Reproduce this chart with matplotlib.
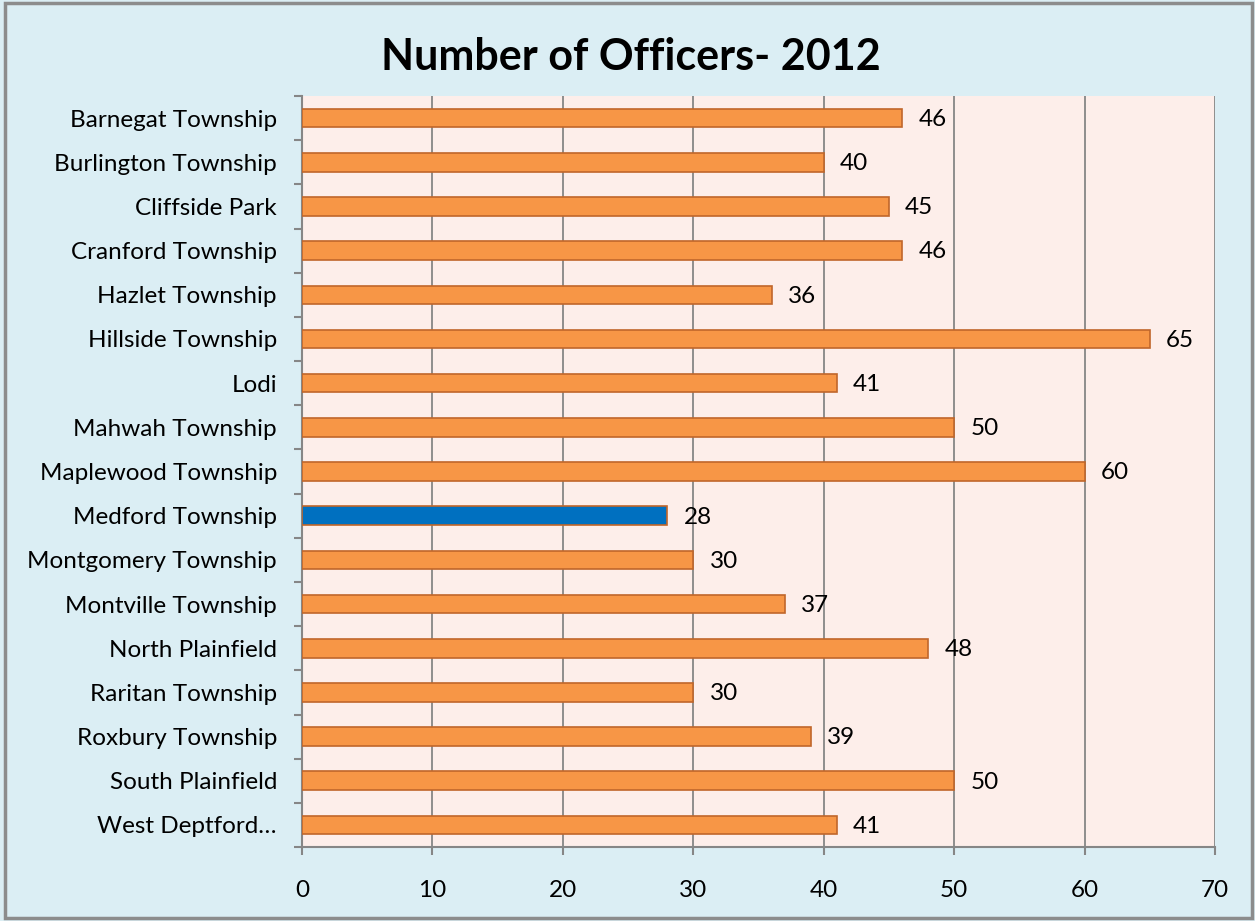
import matplotlib.pyplot as plt
import numpy as np

towns = ["Barnegat Township", "Burlington Township", "Cliffside Park", "Cranford Township",
         "Hazlet Township", "Hillside Township", "Lodi", "Mahwah Township",
         "Maplewood Township", "Medford Township", "Montgomery Township", "Montville Township",
         "North Plainfield", "Raritan Township", "Roxbury Township", "South Plainfield",
         "West Deptford…"]
officers = [46, 40, 45, 46, 36, 65, 41, 50, 60, 28, 30, 37, 48, 30, 39, 50, 41]
highlight = "Medford Township"

plt.rcParams['font.family'] = ['Lato', 'DejaVu Sans']

fig = plt.figure(figsize=(12.55, 9.21), dpi=100, facecolor='#DBEEF4')
fig.patches.append(plt.Rectangle((0.004, 0.003), 0.994, 0.994, transform=fig.transFigure,
                                 fill=False, edgecolor='#8C8C8C', linewidth=2.5))
ax = fig.add_axes([0.2406, 0.0803, 0.7275, 0.8155])
ax.set_facecolor('#FDEEEA')

y = np.arange(len(towns))
colors = ['#0070C0' if t == highlight else '#F79646' for t in towns]
ax.barh(y, officers, height=0.42, color=colors, edgecolor='#C0662B', linewidth=1.2, zorder=3)

for yi, v in zip(y, officers):
    ax.text(v + 1.25, yi + 0.03, str(v), va='center', ha='left', fontsize=17.5, color='black')

ax.set_xlim(0, 70)
ax.set_ylim(len(towns) - 0.5, -0.5)
ax.set_xticks(range(0, 71, 10))
ax.set_xticklabels([str(x) for x in range(0, 71, 10)], fontsize=17.5)
ax.set_yticks(y)
ax.set_yticklabels(towns, fontsize=17.5)
ax.tick_params(axis='y', length=0, pad=18)
ax.set_yticks(np.arange(-0.5, len(towns), 1), minor=True)
ax.tick_params(axis='y', which='minor', length=6, color='#868686', width=1.5, direction='out')
ax.tick_params(axis='x', length=6, color='#868686', width=1.5, direction='out', pad=18)

ax.grid(axis='x', color='#868686', linewidth=1.3, zorder=0)
ax.set_axisbelow(True)
for s in ['top', 'right']:
    ax.spines[s].set_visible(False)
for s in ['left', 'bottom']:
    ax.spines[s].set_color('#868686')
    ax.spines[s].set_linewidth(1.5)

fig.text(0.503, 0.938, 'Number of Officers- 2012', ha='center', va='center',
         fontsize=31, fontweight='bold')

fig.savefig('out.png', dpi=100, facecolor=fig.get_facecolor())
